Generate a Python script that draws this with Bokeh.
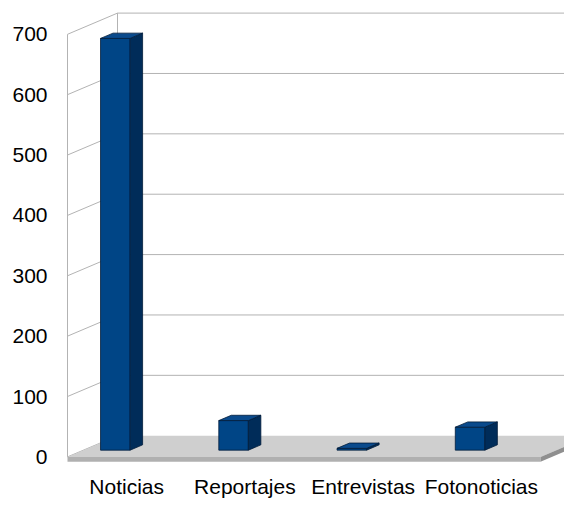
from bokeh.plotting import figure
from bokeh.models import Range1d
from bokeh.embed import file_html
from bokeh.resources import INLINE
from bokeh.core.properties import value

# ---- data ----
categories = ["Noticias", "Reportajes", "Entrevistas", "Fotonoticias"]
counts = [682, 49, 3, 38]
y_ticks = [0, 100, 200, 300, 400, 500, 600, 700]
y_tick_labels = [str(t) for t in y_ticks]

# ---- layout constants ----
W, H = 564, 501
PX_CAT = 118.25      # pixels per category unit
X0_PX = 67           # frame px where category axis starts
Y0_PX = 456.4        # frame px (from top) of value 0
Y700_PX = 33.8       # frame px (from top) of value 700
PX_VAL = (Y0_PX - Y700_PX) / 700.0

x_start = -X0_PX / PX_CAT
x_end = (W - X0_PX) / PX_CAT
y_end = Y0_PX / PX_VAL
y_start = -(H - Y0_PX) / PX_VAL

DX = 50 / PX_CAT     # depth offset in category units
DY = 21.2 / PX_VAL   # depth offset in value units
FLOOR_T = 4.8 / PX_VAL
BAR_Z0, BAR_Z1 = 0.318, 0.568
BAR_L, BAR_W = 0.145, 0.25
N = len(categories)
VMAX = y_ticks[-1]
CAT_LABEL_GAP = 30.0  # px below value 0 (text middle)


def proj(x, v, z):
    return (x + z * DX, v + z * DY)


def poly(pts):
    xs, ys = zip(*[proj(*p) for p in pts])
    return list(xs), list(ys)


p = figure(width=W, height=H, x_range=Range1d(x_start, x_end),
           y_range=Range1d(y_start, y_end), x_axis_location=None,
           y_axis_location=None, toolbar_location=None, output_backend="svg",
           min_border=0, outline_line_color=None,
           background_fill_color="white", border_fill_color="white")
p.xgrid.visible = False
p.ygrid.visible = False

GRID = "#b3b3b3"

# back wall gridlines
bx, by = [], []
for v in y_ticks[1:]:
    xs, ys = poly([(0, v, 1), (N + 1, v, 1)])
    bx.append(xs); by.append(ys)
# left wall diagonals
for v in y_ticks:
    xs, ys = poly([(0, v, 0), (0, v, 1)])
    bx.append(xs); by.append(ys)
# wall vertical edges
for z in (0, 1):
    xs, ys = poly([(0, 0, z), (0, VMAX, z)])
    bx.append(xs); by.append(ys)
p.multi_line(bx, by, line_color=GRID, line_width=1)

# floor slab
fx, fy, fc = [], [], []
xs, ys = poly([(0, 0, 0), (N, 0, 0), (N, 0, 1), (0, 0, 1)])
fx.append(xs); fy.append(ys); fc.append("#cfcfcf")
xs, ys = poly([(0, 0, 0), (N, 0, 0), (N, -FLOOR_T, 0), (0, -FLOOR_T, 0)])
fx.append(xs); fy.append(ys); fc.append("#b0b0b0")
xs, ys = poly([(N, 0, 0), (N, 0, 1), (N, -FLOOR_T, 1), (N, -FLOOR_T, 0)])
fx.append(xs); fy.append(ys); fc.append("#8f8f8f")
p.patches(fx, fy, fill_color=fc, line_color=None)

# bars
px_, py_, pc = [], [], []
for i, h in enumerate(counts):
    xl = i + BAR_L
    xr = xl + BAR_W
    faces = [
        ([(xl, 0, BAR_Z0), (xr, 0, BAR_Z0), (xr, h, BAR_Z0), (xl, h, BAR_Z0)], "#004586"),
        ([(xr, 0, BAR_Z0), (xr, 0, BAR_Z1), (xr, h, BAR_Z1), (xr, h, BAR_Z0)], "#002c59"),
        ([(xl, h, BAR_Z0), (xr, h, BAR_Z0), (xr, h, BAR_Z1), (xl, h, BAR_Z1)], "#0a4a8c"),
    ]
    for pts, col in faces:
        xs, ys = poly(pts)
        px_.append(xs); py_.append(ys); pc.append(col)
p.patches(px_, py_, fill_color=pc, line_color="#001c3a", line_width=0.8)

# value labels
p.text(x=[-20 / PX_CAT] * len(y_ticks), y=y_ticks, text=y_tick_labels,
       text_font=value("Liberation Sans"), text_font_size="21px",
       text_align="right", text_baseline="middle", text_color="black")

# category labels
p.text(x=[i + 0.5 for i in range(N)], y=[-CAT_LABEL_GAP / PX_VAL] * N,
       text=categories, text_font=value("Liberation Sans"),
       text_font_size="21px", text_align="center", text_baseline="middle",
       text_color="black")

open("out.html", "w").write(file_html(p, INLINE))
